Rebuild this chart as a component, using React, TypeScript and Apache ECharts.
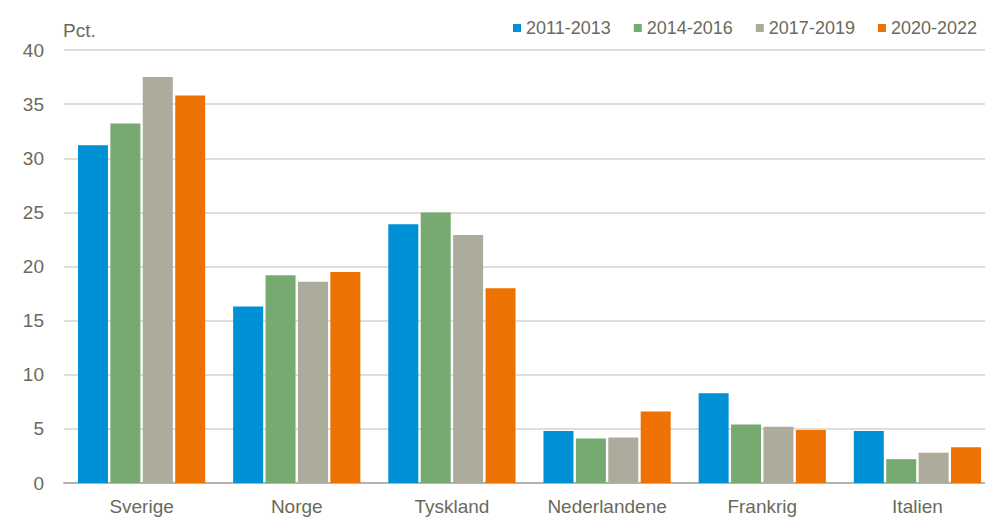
import React, { useEffect, useRef } from "react";
import * as echarts from "echarts";

const categories = ["Sverige", "Norge", "Tyskland", "Nederlandene", "Frankrig", "Italien"];
const seriesNames = ["2011-2013", "2014-2016", "2017-2019", "2020-2022"];
const v2011_2013 = [31.2, 16.3, 23.9, 4.8, 8.3, 4.8];
const v2014_2016 = [33.2, 19.2, 25.0, 4.1, 5.4, 2.2];
const v2017_2019 = [37.5, 18.6, 22.9, 4.2, 5.2, 2.8];
const v2020_2022 = [35.8, 19.5, 18.0, 6.6, 4.9, 3.3];
const colors = ["#0090d6", "#77aa70", "#adab9c", "#ee7203"];

const textColor = "#6b6a5a";
const font = "'Liberation Sans', Arial, sans-serif";
const fs = 19;

export default function App() {
  const ref = useRef<HTMLDivElement>(null);
  useEffect(() => {
    if (!ref.current) return;
    const chart = echarts.init(ref.current, null, { renderer: "svg" });
    const values = [v2011_2013, v2014_2016, v2017_2019, v2020_2022];
    chart.setOption({
      animation: false,
      textStyle: { fontFamily: font },
      legend: {
        top: 14,
        right: 3,
        itemWidth: 8,
        itemHeight: 8,
        itemGap: 23,
        icon: "rect",
        textStyle: { color: textColor, fontSize: 18, fontFamily: font, padding: [0, 0, 0, 0] },
        data: seriesNames,
      },
      graphic: [
        {
          type: "text",
          left: 63,
          top: 21,
          style: { text: "Pct.", fill: textColor, font: `${fs}px ${font}` },
        },
      ],
      grid: {
        left: 64,
        width: 931,
        top: 50,
        bottom: 35,
        containLabel: false,
        outerBoundsMode: "none",
      },
      xAxis: {
        type: "category",
        data: categories,
        axisTick: { show: false },
        axisLine: { lineStyle: { color: "#b5b4aa", width: 2 } },
        axisLabel: { color: textColor, fontSize: fs, margin: 14, fontFamily: font, interval: 0 },
      },
      yAxis: {
        type: "value",
        min: 0,
        max: 40,
        interval: 5,
        axisLabel: { color: textColor, fontSize: fs, margin: 20, fontFamily: font },
        splitLine: { lineStyle: { color: "#d4d3cc", width: 1.5 } },
        axisLine: { show: false },
        axisTick: { show: false },
      },
      series: seriesNames.map((name, i) => ({
        name,
        type: "bar",
        data: values[i],
        barGap: "8%",
        barCategoryGap: "18%",
        itemStyle: { color: colors[i] },
      })),
    });
    return () => chart.dispose();
  }, []);
  return (
    <div
      ref={ref}
      style={{ position: "fixed", left: 0, top: 0, width: 985, height: 518, background: "#fff", overflow: "hidden" }}
    />
  );
}
